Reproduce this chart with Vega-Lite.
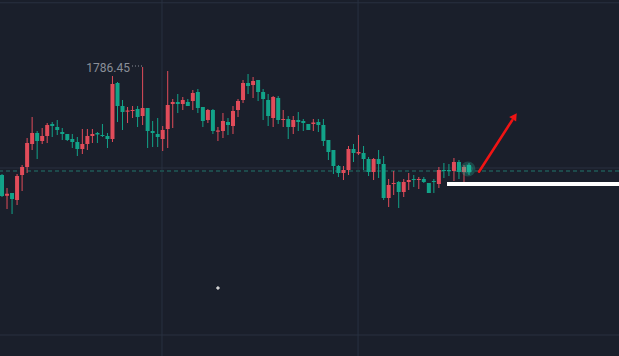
{
  "$schema": "https://vega.github.io/schema/vega-lite/v6.json",
  "width": 619,
  "height": 356,
  "autosize": {"type": "none"},
  "padding": 0,
  "background": "#1a1f2b",
  "config": {"view": {"stroke": null}},
  "datasets": {
    "candles": [
      {"i":0,"o":1764.85,"h":1765.05,"l":1760.45,"c":1760.65},
      {"i":1,"o":1760.71,"h":1762.25,"l":1758.05,"c":1761.11},
      {"i":2,"o":1761.25,"h":1761.25,"l":1757.05,"c":1760.05},
      {"i":3,"o":1759.85,"h":1765.05,"l":1758.85,"c":1764.65},
      {"i":4,"o":1764.85,"h":1766.85,"l":1761.65,"c":1766.45},
      {"i":5,"o":1766.45,"h":1772.25,"l":1765.25,"c":1771.25},
      {"i":6,"o":1771.05,"h":1776.45,"l":1769.85,"c":1773.25},
      {"i":7,"o":1773.25,"h":1773.65,"l":1768.05,"c":1771.65},
      {"i":8,"o":1771.65,"h":1774.25,"l":1771.05,"c":1772.65},
      {"i":9,"o":1772.65,"h":1775.25,"l":1771.25,"c":1774.85},
      {"i":10,"o":1775.05,"h":1775.45,"l":1772.45,"c":1774.65},
      {"i":11,"o":1774.45,"h":1775.85,"l":1772.85,"c":1773.85},
      {"i":12,"o":1773.45,"h":1774.25,"l":1771.85,"c":1773.05},
      {"i":13,"o":1773.05,"h":1773.05,"l":1771.65,"c":1771.85},
      {"i":14,"o":1772.05,"h":1773.05,"l":1770.25,"c":1771.45},
      {"i":15,"o":1771.45,"h":1772.45,"l":1768.65,"c":1770.05},
      {"i":16,"o":1770.05,"h":1774.05,"l":1769.05,"c":1771.05},
      {"i":17,"o":1771.05,"h":1774.05,"l":1769.85,"c":1772.65},
      {"i":18,"o":1772.65,"h":1774.05,"l":1771.25,"c":1773.05},
      {"i":19,"o":1773.25,"h":1773.45,"l":1771.25,"c":1772.95},
      {"i":20,"o":1772.85,"h":1775.05,"l":1772.45,"c":1772.65},
      {"i":21,"o":1772.65,"h":1773.25,"l":1770.25,"c":1772.05},
      {"i":22,"o":1772.05,"h":1784.65,"l":1771.45,"c":1783.05},
      {"i":23,"o":1783.25,"h":1783.45,"l":1775.45,"c":1778.65},
      {"i":24,"o":1778.65,"h":1779.85,"l":1773.85,"c":1777.45},
      {"i":25,"o":1777.51,"h":1778.45,"l":1775.25,"c":1777.75},
      {"i":26,"o":1777.65,"h":1778.65,"l":1776.25,"c":1777.85},
      {"i":27,"o":1778.05,"h":1778.65,"l":1774.45,"c":1776.45},
      {"i":28,"o":1776.65,"h":1786.45,"l":1774.85,"c":1778.25},
      {"i":29,"o":1778.25,"h":1778.25,"l":1770.25,"c":1773.65},
      {"i":30,"o":1773.65,"h":1775.65,"l":1770.45,"c":1773.25},
      {"i":31,"o":1773.05,"h":1776.25,"l":1770.45,"c":1772.45},
      {"i":32,"o":1772.05,"h":1774.65,"l":1769.65,"c":1773.85},
      {"i":33,"o":1774.05,"h":1785.65,"l":1770.25,"c":1778.85},
      {"i":34,"o":1779.05,"h":1780.05,"l":1774.25,"c":1779.45},
      {"i":35,"o":1779.45,"h":1781.05,"l":1777.25,"c":1779.05},
      {"i":36,"o":1779.05,"h":1780.45,"l":1777.85,"c":1779.85},
      {"i":37,"o":1779.45,"h":1780.05,"l":1778.65,"c":1778.65},
      {"i":38,"o":1779.65,"h":1781.85,"l":1777.85,"c":1781.25},
      {"i":39,"o":1781.45,"h":1782.05,"l":1777.25,"c":1778.25},
      {"i":40,"o":1778.45,"h":1778.45,"l":1774.45,"c":1775.65},
      {"i":41,"o":1775.85,"h":1778.05,"l":1775.25,"c":1777.85},
      {"i":42,"o":1777.85,"h":1778.05,"l":1773.05,"c":1773.65},
      {"i":43,"o":1773.51,"h":1774.45,"l":1771.65,"c":1773.75},
      {"i":44,"o":1773.65,"h":1777.25,"l":1772.25,"c":1775.65},
      {"i":45,"o":1775.45,"h":1776.25,"l":1772.85,"c":1774.85},
      {"i":46,"o":1774.65,"h":1778.65,"l":1773.05,"c":1777.65},
      {"i":47,"o":1777.85,"h":1780.05,"l":1776.45,"c":1779.65},
      {"i":48,"o":1779.85,"h":1783.85,"l":1779.25,"c":1783.25},
      {"i":49,"o":1783.25,"h":1785.05,"l":1781.05,"c":1782.65},
      {"i":50,"o":1782.85,"h":1784.45,"l":1780.25,"c":1783.65},
      {"i":51,"o":1783.85,"h":1783.85,"l":1779.65,"c":1781.45},
      {"i":52,"o":1781.45,"h":1782.05,"l":1775.85,"c":1780.05},
      {"i":53,"o":1779.85,"h":1781.05,"l":1774.65,"c":1776.65},
      {"i":54,"o":1776.25,"h":1780.65,"l":1774.45,"c":1780.45},
      {"i":55,"o":1780.25,"h":1780.65,"l":1775.05,"c":1775.85},
      {"i":56,"o":1775.85,"h":1777.85,"l":1774.45,"c":1776.05},
      {"i":57,"o":1776.05,"h":1776.65,"l":1772.05,"c":1774.45},
      {"i":58,"o":1774.45,"h":1776.65,"l":1773.05,"c":1775.85},
      {"i":59,"o":1775.85,"h":1777.45,"l":1773.65,"c":1775.45},
      {"i":60,"o":1775.65,"h":1776.05,"l":1773.65,"c":1775.25},
      {"i":61,"o":1775.05,"h":1775.05,"l":1773.85,"c":1773.85},
      {"i":62,"o":1775.05,"h":1776.05,"l":1773.65,"c":1775.35},
      {"i":63,"o":1775.45,"h":1776.05,"l":1773.45,"c":1774.85},
      {"i":64,"o":1774.85,"h":1776.05,"l":1770.65,"c":1771.65},
      {"i":65,"o":1771.85,"h":1771.85,"l":1767.85,"c":1769.45},
      {"i":66,"o":1769.85,"h":1769.85,"l":1765.05,"c":1766.65},
      {"i":67,"o":1766.65,"h":1766.85,"l":1764.45,"c":1765.25},
      {"i":68,"o":1765.25,"h":1766.65,"l":1763.85,"c":1765.85},
      {"i":69,"o":1765.85,"h":1770.65,"l":1764.85,"c":1770.05},
      {"i":70,"o":1770.05,"h":1771.05,"l":1767.45,"c":1769.25},
      {"i":71,"o":1769.15,"h":1772.85,"l":1768.85,"c":1769.45},
      {"i":72,"o":1769.25,"h":1770.65,"l":1765.85,"c":1768.05},
      {"i":73,"o":1768.05,"h":1768.45,"l":1764.65,"c":1765.45},
      {"i":74,"o":1765.45,"h":1768.25,"l":1763.85,"c":1768.05},
      {"i":75,"o":1768.05,"h":1769.85,"l":1764.25,"c":1767.05},
      {"i":76,"o":1767.05,"h":1768.65,"l":1759.85,"c":1760.25},
      {"i":77,"o":1760.25,"h":1764.05,"l":1758.45,"c":1762.85},
      {"i":78,"o":1763.05,"h":1765.65,"l":1760.85,"c":1763.25},
      {"i":79,"o":1763.45,"h":1763.65,"l":1758.25,"c":1761.45},
      {"i":80,"o":1761.45,"h":1764.05,"l":1760.45,"c":1763.45},
      {"i":81,"o":1763.45,"h":1765.25,"l":1761.85,"c":1763.85},
      {"i":82,"o":1764.05,"h":1764.85,"l":1762.45,"c":1763.85},
      {"i":83,"o":1763.85,"h":1764.45,"l":1762.05,"c":1764.05},
      {"i":84,"o":1764.05,"h":1764.45,"l":1763.25,"c":1763.45},
      {"i":85,"o":1763.25,"h":1763.25,"l":1761.25,"c":1761.25},
      {"i":86,"o":1763.65,"h":1764.05,"l":1761.25,"c":1763.45},
      {"i":87,"o":1763.05,"h":1766.45,"l":1762.25,"c":1765.85},
      {"i":88,"o":1765.85,"h":1767.25,"l":1764.25,"c":1765.65},
      {"i":89,"o":1765.85,"h":1767.05,"l":1764.65,"c":1765.65},
      {"i":90,"o":1765.65,"h":1768.25,"l":1763.65,"c":1767.45},
      {"i":91,"o":1767.45,"h":1767.85,"l":1764.05,"c":1765.45},
      {"i":92,"o":1765.45,"h":1766.85,"l":1763.45,"c":1766.45},
      {"i":93,"o":1766.85,"h":1767.25,"l":1764.85,"c":1765.45}
    ]
  },
  "layer": [
    {
      "data": {"values": [{"i": 31.86}, {"i": 70.9}]},
      "mark": {"type": "rule", "color": "#283140", "strokeWidth": 1},
      "encoding": {
        "x": {"field": "i", "type": "quantitative", "scale": {"domain": [-0.4, 122.87], "nice": false, "zero": false, "padding": 0}, "axis": null}
      }
    },
    {
      "data": {"values": [{"p": 1799.3}, {"p": 1732.85}, {"p": 1766.25}]},
      "mark": {"type": "rule", "color": "#283140", "strokeWidth": 1},
      "encoding": {
        "y": {"field": "p", "type": "quantitative", "scale": {"domain": [1728.65, 1799.85], "nice": false, "zero": false, "padding": 0}, "axis": null}
      }
    },
    {
      "data": {"values": [{"p": 1765.65}]},
      "mark": {"type": "rule", "color": "#1d4a4b", "strokeWidth": 2, "strokeDash": [4, 3]},
      "encoding": {
        "y": {"field": "p", "type": "quantitative", "axis": null}
      }
    },
    {
      "data": {"name": "candles"},
      "mark": {"type": "rule", "strokeWidth": 1},
      "encoding": {
        "x": {"field": "i", "type": "quantitative", "axis": null},
        "y": {"field": "l", "type": "quantitative", "axis": null},
        "y2": {"field": "h"},
        "color": {"condition": {"test": "datum.c >= datum.o", "value": "#e14c5a"}, "value": "#12a389"}
      }
    },
    {
      "data": {"name": "candles"},
      "mark": {"type": "bar", "width": 4, "orient": "vertical"},
      "encoding": {
        "x": {"field": "i", "type": "quantitative", "axis": null},
        "y": {"field": "o", "type": "quantitative", "axis": null},
        "y2": {"field": "c"},
        "color": {"condition": {"test": "datum.c >= datum.o", "value": "#e14c5a"}, "value": "#12a389"}
      }
    },
    {
      "data": {"values": [{"i": 92.8, "p": 1766.05, "s": 220}, {"i": 92.8, "p": 1766.05, "s": 90}]},
      "mark": {"type": "point", "filled": true, "color": "#22c9a6", "opacity": 0.25},
      "encoding": {
        "x": {"field": "i", "type": "quantitative", "axis": null},
        "y": {"field": "p", "type": "quantitative", "axis": null},
        "size": {"field": "s", "type": "quantitative", "scale": null, "legend": null}
      }
    },
    {
      "data": {"values": [{"i": 88.62, "i2": 122.87, "p": 1763.05}]},
      "mark": {"type": "rule", "color": "#ffffff", "strokeWidth": 4},
      "encoding": {
        "x": {"field": "i", "type": "quantitative", "axis": null},
        "x2": {"field": "i2"},
        "y": {"field": "p", "type": "quantitative", "axis": null}
      }
    },
    {
      "data": {"values": [{"i": 94.99, "i2": 101.6, "p": 1765.51, "p2": 1775.8}]},
      "mark": {"type": "rule", "color": "#f01414", "strokeWidth": 2.5, "strokeCap": "round"},
      "encoding": {
        "x": {"field": "i", "type": "quantitative", "axis": null},
        "x2": {"field": "i2"},
        "y": {"field": "p", "type": "quantitative", "axis": null},
        "y2": {"field": "p2"}
      }
    },
    {
      "data": {"values": [{"i": 102.1, "p": 1776.6}]},
      "mark": {"type": "point", "shape": "triangle-up", "filled": true, "color": "#f01414", "opacity": 1, "size": 70, "angle": 34},
      "encoding": {
        "x": {"field": "i", "type": "quantitative", "axis": null},
        "y": {"field": "p", "type": "quantitative", "axis": null}
      }
    },
    {
      "data": {"values": [{"i": 25.49, "p": 1786.3, "t": "1786.45"}]},
      "mark": {"type": "text", "align": "right", "baseline": "middle", "font": "Roboto", "fontSize": 12, "color": "#8a8f99"},
      "encoding": {
        "x": {"field": "i", "type": "quantitative", "axis": null},
        "y": {"field": "p", "type": "quantitative", "axis": null},
        "text": {"field": "t"}
      }
    },
    {
      "data": {"values": [{"i": 25.89, "i2": 27.9, "p": 1786.65}]},
      "mark": {"type": "rule", "color": "#8a8f99", "strokeWidth": 1, "strokeDash": [1, 2]},
      "encoding": {
        "x": {"field": "i", "type": "quantitative", "axis": null},
        "x2": {"field": "i2"},
        "y": {"field": "p", "type": "quantitative", "axis": null}
      }
    },
    {
      "data": {"values": [{"i": 43.0, "p": 1742.25}]},
      "mark": {"type": "point", "shape": "cross", "filled": true, "color": "#e0e0e0", "size": 12, "opacity": 1},
      "encoding": {
        "x": {"field": "i", "type": "quantitative", "axis": null},
        "y": {"field": "p", "type": "quantitative", "axis": null}
      }
    }
  ]
}
